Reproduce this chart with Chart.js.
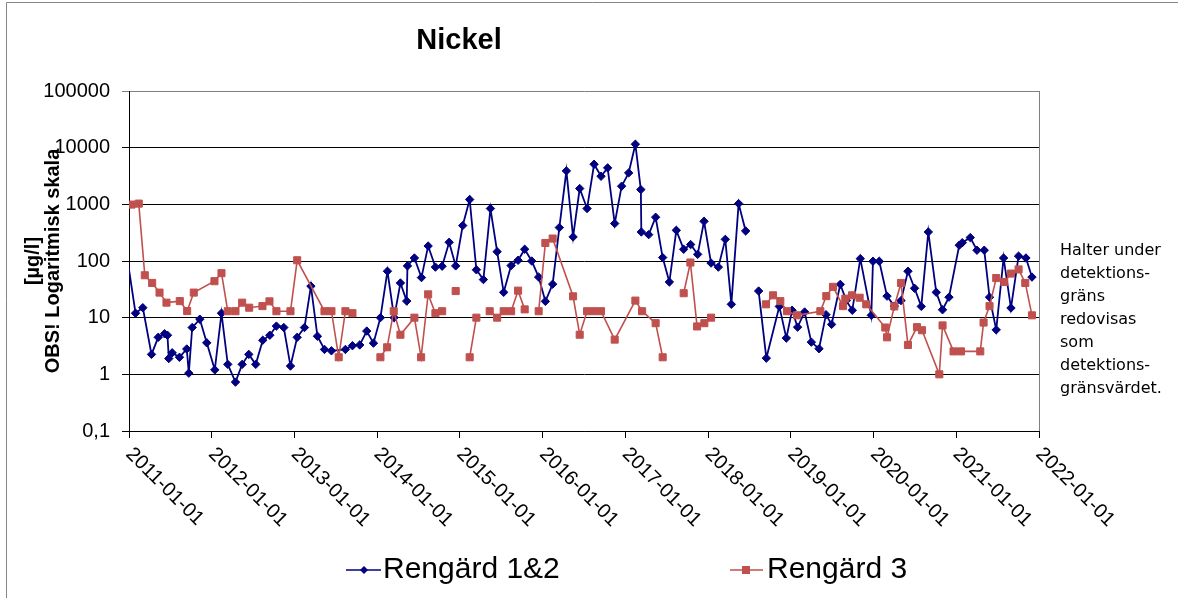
<!DOCTYPE html>
<html>
<head>
<meta charset="utf-8">
<title>Nickel</title>
<script src="https://cdn.jsdelivr.net/npm/chart.js@4.4.1/dist/chart.umd.min.js"></script>
<style>
  html, body { margin: 0; padding: 0; background: #fff; }
  canvas { display: block; }
</style>
</head>
<body>
<canvas id="nickelChart" width="1178" height="598"></canvas>
<script>
// ---- data (x as decimal years) ----
const blueDates = [
  2010.98, 2011.079, 2011.167, 2011.272, 2011.353, 2011.430, 2011.465, 2011.481, 2011.522, 2011.610,
  2011.698, 2011.723, 2011.764, 2011.856, 2011.940, 2012.037, 2012.118, 2012.194, 2012.287, 2012.368,
  2012.448, 2012.532, 2012.617, 2012.702, 2012.782, 2012.871, 2012.952, 2013.033, 2013.121, 2013.199,
  2013.278, 2013.363, 2013.447, 2013.616, 2013.701, 2013.789, 2013.874, 2013.955, 2014.039, 2014.124,
  2014.205, 2014.281, 2014.357, 2014.366, 2014.450, 2014.535, 2014.616, 2014.704, 2014.785, 2014.870,
  2014.949, 2015.034, 2015.118, 2015.199, 2015.284, 2015.369, 2015.450, 2015.529, 2015.619, 2015.703,
  2015.783, 2015.868, 2015.952, 2016.033, 2016.121, 2016.202, 2016.287, 2016.368, 2016.448, 2016.537,
  2016.622, 2016.706, 2016.786, 2016.871, 2016.955, 2017.040, 2017.121, 2017.187, 2017.193, 2017.282,
  2017.366, 2017.451, 2017.532, 2017.616, 2017.705, 2017.789, 2017.874, 2017.951, 2018.036, 2018.124,
  2018.208, 2018.281, 2018.369, 2018.454, 2018.530, 2018.611, 2018.704, 2018.861, 2018.946, 2019.015,
  2019.082, 2019.167, 2019.248, 2019.341, 2019.425, 2019.493, 2019.598, 2019.671, 2019.743, 2019.840,
  2019.973, 2019.993, 2020.069, 2020.163, 2020.251, 2020.332, 2020.416, 2020.496, 2020.577, 2020.662,
  2020.758, 2020.834, 2020.912, 2021.036, 2021.072, 2021.169, 2021.250, 2021.338, 2021.402, 2021.483,
  2021.572, 2021.661, 2021.753, 2021.842, 2021.915
];
const blueValues = [
  110, 12, 15, 2.25, 4.5, 5.2, 4.9, 1.9, 2.4, 2.0,
  2.8, 1.05, 6.7, 9.4, 3.6, 1.2, 12, 1.5, 0.73, 1.5,
  2.25, 1.5, 4.0, 4.9, 7.1, 6.7, 1.4, 4.5, 6.7, 36,
  4.7, 2.75, 2.6, 2.75, 3.2, 3.3, 5.8, 3.55, 10, 66,
  10, 41, 19.6, 82, 113, 51, 184, 78, 81, 214,
  82, 422, 1216, 70, 47, 843, 146, 28, 83, 103,
  161, 100, 52, 19.4, 39, 389, 3890, 266, 1900, 843,
  5100, 3130, 4400, 458, 2090, 3590, 11500, 1820, 325, 292,
  592, 115, 42.6, 348, 161, 195, 131, 502, 92, 78,
  241, 17.2, 1030, 339, null, 29.5, 1.93, 15.8, 4.36, 13.5,
  6.8, 12.6, 3.7, 2.83, 11.3, 7.6, 38.7, 20, 13.5, 110,
  11, 99, 99, 24, 16, 20, 66, 33, 15.8, 325,
  28, 13.8, 23, 190, 210, 259, 155, 155, 23, 6.1,
  113, 14.8, 122, 113, 52
];

const redDates = [
  2011.030, 2011.118, 2011.191, 2011.280, 2011.369, 2011.453, 2011.614, 2011.703, 2011.783, 2012.033,
  2012.118, 2012.194, 2012.287, 2012.368, 2012.453, 2012.613, 2012.698, 2012.782, 2012.952, 2013.033,
  2013.363, 2013.447, 2013.535, 2013.616, 2013.701, 2013.850, 2014.039, 2014.120, 2014.200, 2014.281,
  2014.450, 2014.531, 2014.616, 2014.704, 2014.785, 2014.870, 2014.949, 2015.030, 2015.118, 2015.199,
  2015.280, 2015.360, 2015.450, 2015.529, 2015.619, 2015.703, 2015.783, 2015.870, 2015.952, 2016.033,
  2016.121, 2016.368, 2016.448, 2016.537, 2016.622, 2016.706, 2016.871, 2017.121, 2017.202, 2017.366,
  2017.451, 2017.580, 2017.705, 2017.786, 2017.867, 2017.955, 2018.036, 2018.300, 2018.700, 2018.785,
  2018.873, 2018.954, 2019.075, 2019.357, 2019.429, 2019.510, 2019.631, 2019.659, 2019.740, 2019.832,
  2019.912, 2020.142, 2020.163, 2020.251, 2020.332, 2020.416, 2020.525, 2020.586, 2020.795, 2020.834,
  2020.967, 2021.057, 2021.290, 2021.330, 2021.402, 2021.483, 2021.580, 2021.661, 2021.753, 2021.834,
  2021.915
];
const redValues = [
  990, 1030, 56, 41, 27.7, 18.4, 19.6, 13.1, 27.7, 44,
  61, 13, 13, 18.4, 15, 16, 19.4, 13, 13, 103,
  13, 13, 2.0, 13, 12, null, 2.0, 3.0, 13, 5.0,
  10, 2.0, 25.8, 12, 13, null, 29.5, null, 2.0, 10,
  null, 13, 10, 13, 13, 30, 14, null, 13, 208,
  249, 23.8, 5.0, 13, 13, 13, 4.1, 20, 13, 8.0,
  2.0, null, 27, 94, 7.0, 8.0, 10, null, 17.2, 24.8,
  19.6, 13, 11, 13, 24, 35, 16, 21.7, 24.8, 22.5,
  17.2, 6.7, 4.5, 15.8, 41, 3.3, 6.8, 6.0, 1.0, 7.3,
  2.54, 2.54, 2.54, 8.2, 16, 50, 42.6, 60, 71, 41,
  11
];

const seriesNames = ["Rengärd 1&2", "Rengärd 3"];
const xTicks = [2011, 2012, 2013, 2014, 2015, 2016, 2017, 2018, 2019, 2020, 2021, 2022];
const xTickLabels = ["2011-01-01", "2012-01-01", "2013-01-01", "2014-01-01", "2015-01-01", "2016-01-01",
  "2017-01-01", "2018-01-01", "2019-01-01", "2020-01-01", "2021-01-01", "2022-01-01"];
const yTicks = [0.1, 1, 10, 100, 1000, 10000, 100000];
const yTickLabels = ["0,1", "1", "10", "100", "1000", "10000", "100000"];
const noteLines = ["Halter under", "detektions-", "gräns", "redovisas", "som", "detektions-", "gränsvärdet."];

const BLUE = "#000080";
const RED = "#C0504D";
const FONT = "'Liberation Sans', Arial, sans-serif";

Chart.defaults.font.family = FONT;
Chart.defaults.color = "#000";

function diamond(ctx, x, y, r) {
  ctx.beginPath();
  ctx.moveTo(x, y - r); ctx.lineTo(x + r, y); ctx.lineTo(x, y + r); ctx.lineTo(x - r, y);
  ctx.closePath(); ctx.fill();
}

// title, outer frame, rotated date labels, note and legend
const decorations = {
  id: "decorations",
  beforeDraw(chart) {
    const ctx = chart.ctx;
    ctx.save();
    ctx.fillStyle = "#fff";
    ctx.fillRect(0, 0, chart.width, chart.height);
    ctx.strokeStyle = "#868686";
    ctx.lineWidth = 1;
    ctx.beginPath();
    ctx.moveTo(6.5, chart.height);
    ctx.lineTo(6.5, 2.5);
    ctx.lineTo(chart.width, 2.5);
    ctx.stroke();
    ctx.restore();
  },
  beforeDatasetsDraw(chart) {
    const { ctx, chartArea: a } = chart;
    ctx.save();
    ctx.strokeStyle = "#808080";
    ctx.lineWidth = 1;
    ctx.beginPath();
    ctx.moveTo(Math.round(a.right) + 0.5, a.top);
    ctx.lineTo(Math.round(a.right) + 0.5, a.bottom);
    ctx.stroke();
    ctx.restore();
  },
  afterDraw(chart) {
    const ctx = chart.ctx;
    const xs = chart.scales.x;
    ctx.save();

    // title
    ctx.fillStyle = "#000";
    ctx.font = "bold 29px " + FONT;
    ctx.textAlign = "center";
    ctx.textBaseline = "middle";
    ctx.fillText("Nickel", 459, 41);

    // x tick labels, turned 45 degrees clockwise
    ctx.font = "20px " + FONT;
    ctx.textAlign = "left";
    ctx.textBaseline = "middle";
    xTicks.forEach((t, i) => {
      const px = xs.getPixelForValue(t);
      ctx.save();
      ctx.translate(px, 451);
      ctx.rotate(Math.PI / 4);
      ctx.fillText(xTickLabels[i], 0, 0);
      ctx.restore();
    });

    // note on the right
    ctx.font = "16px 'DejaVu Sans', sans-serif";
    ctx.textBaseline = "alphabetic";
    noteLines.forEach((line, i) => ctx.fillText(line, 1060, 255 + i * 23));

    // legend
    const ly = 570;
    ctx.lineWidth = 1.5;
    ctx.strokeStyle = BLUE;
    ctx.beginPath(); ctx.moveTo(346, ly); ctx.lineTo(381, ly); ctx.stroke();
    ctx.fillStyle = BLUE;
    diamond(ctx, 364, ly, 4);
    ctx.strokeStyle = RED;
    ctx.beginPath(); ctx.moveTo(730, ly); ctx.lineTo(763, ly); ctx.stroke();
    ctx.fillStyle = RED;
    ctx.fillRect(742, ly - 4, 8, 8);
    ctx.fillStyle = "#000";
    ctx.font = "30px " + FONT;
    ctx.textBaseline = "middle";
    ctx.fillText(seriesNames[0], 383, ly);
    ctx.fillText(seriesNames[1], 767, ly);

    ctx.restore();
  }
};

new Chart(document.getElementById("nickelChart"), {
  type: "line",
  data: {
    datasets: [
      {
        label: seriesNames[0],
        data: blueDates.map((d, i) => ({ x: d, y: blueValues[i] })),
        borderColor: BLUE,
        backgroundColor: BLUE,
        borderWidth: 1.8,
        pointStyle: "rectRot",
        pointRadius: c => (c.raw && c.raw.x < 2011 ? 0 : 4.2),
        pointBorderWidth: 1,
        pointBackgroundColor: BLUE,
        pointBorderColor: BLUE,
        tension: 0,
        spanGaps: false,
        order: 1
      },
      {
        label: seriesNames[1],
        data: redDates.map((d, i) => ({ x: d, y: redValues[i] })),
        borderColor: RED,
        backgroundColor: RED,
        borderWidth: 1.6,
        pointStyle: "rect",
        pointRadius: 5,
        pointBorderWidth: 1,
        pointBackgroundColor: RED,
        pointBorderColor: RED,
        tension: 0,
        spanGaps: false,
        order: 0
      }
    ]
  },
  options: {
    responsive: false,
    animation: false,
    events: [],
    layout: { padding: { left: 12, right: 139, top: 91, bottom: 67 } },
    plugins: {
      legend: { display: false },
      tooltip: { enabled: false }
    },
    scales: {
      x: {
        type: "linear",
        min: 2011,
        max: 2022,
        afterBuildTicks: s => { s.ticks = xTicks.map(v => ({ value: v })); },
        afterFit: s => { s.height = 100; },
        ticks: { display: false },
        grid: { drawOnChartArea: false, drawTicks: true, tickLength: 7, color: "#000" },
        border: { color: "#000", width: 1 }
      },
      y: {
        type: "logarithmic",
        min: 0.1,
        max: 100000,
        afterBuildTicks: s => { s.ticks = yTicks.map(v => ({ value: v })); },
        afterFit: s => { s.width = 117; },
        ticks: {
          color: "#000",
          font: { size: 20 },
          padding: 12,
          callback: (v, i) => yTickLabels[i]
        },
        grid: {
          color: c => (c.tick && c.tick.value === 100000 ? "#808080" : "#000"),
          tickLength: 7,
          lineWidth: 1
        },
        border: { color: "#000", width: 1 },
        title: {
          display: true,
          text: ["[µg/l]", "OBS! Logaritmisk skala"],
          color: "#000",
          font: { size: 20, weight: "bold", lineHeight: 1.0 },
          padding: { top: 11, bottom: 0 }
        }
      }
    }
  },
  plugins: [decorations]
});
</script>
</body>
</html>
